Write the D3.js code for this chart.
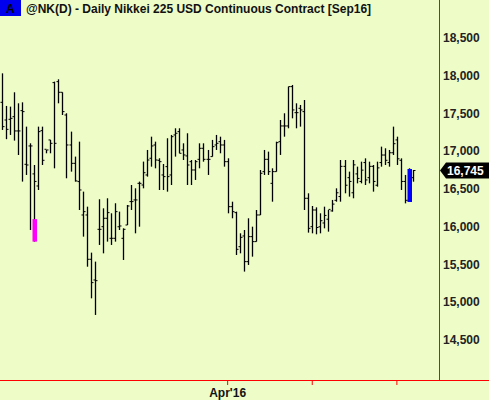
<!DOCTYPE html>
<html><head><meta charset="utf-8">
<script src="https://cdn.jsdelivr.net/npm/d3@7"></script>
<style>body{margin:0;background:#eefcc8;}svg{display:block;font-family:Arial,"Liberation Sans",sans-serif;font-weight:bold;}</style>
</head><body><div id="chart"></div>
<script>
// daily bars
const highs = [18032,17600,17591,17781,17635,17648,17326,17105,16818,17326,17326,17017,17150,17922,17953,17781,17503,17260,16929,17127,16465,16266,15657,15538,16364,16244,16377,16178,16311,16200,15979,16288,16553,16509,16598,16863,17017,17193,17127,16907,16831,17172,17216,17304,17304,17105,17238,16884,16884,17105,17105,17017,17150,17216,17193,17150,16907,16332,16200,15913,15957,16112,16001,16222,16752,17017,16995,16774,17127,17414,17503,17856,17878,17635,17613,17679,16443,16275,16257,16178,16266,16222,16355,16509,16884,16884,16730,16884,16796,16862,16906,16862,16818,16862,17061,17039,17017,17326,17193,16906,16686,16774,16752];
const lows = [17282,17160,17216,17141,16950,16598,16686,15957,15803,16487,16818,16973,16973,16774,17635,17480,16642,16730,16598,16222,15869,15471,15052,14832,15759,15648,15803,15759,15803,15957,15560,16023,16222,15913,16001,16509,16664,16796,16774,16487,16487,16465,16553,16929,16973,16884,16553,16553,16620,16774,16862,16686,16929,17017,16973,16796,16178,16112,15626,15648,15406,15494,15604,15803,16156,16686,16686,16332,16730,16951,17193,17304,17436,17304,17326,16222,15922,15913,15900,15913,15979,15935,16200,16332,16332,16443,16399,16377,16575,16575,16553,16575,16465,16531,16796,16818,16796,16950,16818,16487,16310,16332,16597];
const opens = [17648,17414,17423,17458,17269,17538,16827,17070,16700,16540,17273,17026,17150,17909,17922,17781,17480,17083,16840,16598,16156,16156,15569,15295,15966,16001,16112,15847,15847,16000,15847,16023,16333,16355,16575,16553,16686,16907,17083,16880,16686,16796,16686,17216,17260,17017,16938,16862,16752,16893,17039,16893,16929,17083,17127,17083,16862,16266,16187,15736,15878,15538,15869,15803,16156,16730,16893,16575,16730,17127,17335,17335,17856,17511,17569,17525,16377,16001,16222,16000,16050,16100,16210,16350,16400,16800,16650,16450,16700,16600,16850,16650,16800,16550,16850,16950,16850,16980,17150,16880,16600,16350,16650];
const closes = [17326,17290,17436,17269,17269,17525,16818,17070,16600,17260,16880,17017,17105,17105,17781,17525,17083,16840,16607,16487,16200,15569,15260,15286,15966,16112,16187,15847,16200,16010,15966,16275,16333,16355,16575,16716,16884,17070,16884,16862,16664,16664,17193,17238,16973,16951,16818,16752,16862,17039,16893,16893,17061,17105,17083,16862,16266,16200,15701,15860,15538,15869,15803,16156,16708,16893,16730,16730,17114,17335,17335,17856,17547,17511,17547,16377,15979,16222,15990,16080,16150,16230,16300,16450,16800,16550,16600,16820,16640,16750,16620,16800,16600,16780,16950,16880,16980,17100,16900,16600,16350,16700,16745];
const priceTicks = [14500,15000,15500,16000,16500,17000,17500,18000,18500];
const dateTickIdx = [56,77,98];
const dateTickLabels = ["Apr'16","",""];
const lastPrice = 16745;
const magentaBar = {i:8, top:16101, bot:15803};
const blueBar = {i:101, top:16765, bot:16328};

const W = 489, H = 400;
const svg = d3.select("#chart").append("svg").attr("width", W).attr("height", H);
svg.append("rect").attr("width", W).attr("height", H).attr("fill", "#eefcc8");

const x = d3.scaleLinear().domain([0, highs.length - 1]).range([2, 413]);
const y = d3.scaleLinear().domain([14500, 18500]).range([340, 38]);

// title
svg.append("rect").attr("x", 0).attr("y", 0).attr("width", 21).attr("height", 16).attr("fill", "#0000ee");
svg.append("text").attr("x", 6).attr("y", 13).attr("font-size", 12).attr("fill", "#000").text("A");
svg.append("text").attr("x", 26).attr("y", 13).attr("font-size", 12).attr("fill", "#111")
    .text("@NK(D) - Daily  Nikkei 225 USD Continuous Contract [Sep16]");

// axes lines
svg.append("line").attr("x1", 0).attr("x2", W).attr("y1", 380.5).attr("y2", 380.5).attr("stroke", "red");
svg.append("line").attr("x1", 439.5).attr("x2", 439.5).attr("y1", 0).attr("y2", 380).attr("stroke", "red");

// price labels
svg.selectAll("text.p").data(priceTicks).join("text").attr("class", "p")
    .attr("x", 443).attr("y", d => y(d) + 4).attr("font-size", 12).attr("fill", "#222")
    .text(d => d3.format(",")(d));

// date ticks
svg.selectAll("line.dt").data(dateTickIdx).join("line").attr("class", "dt")
    .attr("x1", d => x(d)).attr("x2", d => x(d)).attr("y1", 380).attr("y2", 385).attr("stroke", "red");
svg.selectAll("text.dt").data(dateTickIdx).join("text").attr("class", "dt")
    .attr("x", d => x(d)).attr("y", 397).attr("text-anchor", "middle").attr("font-size", 12).attr("fill", "#111")
    .text((d, i) => dateTickLabels[i]);

// OHLC bars
const g = svg.append("g").attr("stroke", "#000");
highs.forEach((h, i) => {
    const cx = Math.round(x(i)) + 0.5;
    g.append("line").attr("x1", cx).attr("x2", cx).attr("y1", y(h)).attr("y2", y(lows[i])).attr("stroke-width", 1.3);
    g.append("line").attr("x1", cx - 2).attr("x2", cx).attr("y1", y(opens[i])).attr("y2", y(opens[i]));
    g.append("line").attr("x1", cx).attr("x2", cx + 2).attr("y1", y(closes[i])).attr("y2", y(closes[i]));
});

// highlight boxes over the bars
[[magentaBar, "#ff00ff"], [blueBar, "#0000ff"]].forEach(([b, c]) => {
    svg.append("rect").attr("x", Math.round(x(b.i)) - 1.5).attr("width", 4.5)
        .attr("y", y(b.top)).attr("height", y(b.bot) - y(b.top)).attr("fill", c);
});

// last price tag
const ly = y(lastPrice);
svg.append("path").attr("fill", "#000")
    .attr("d", `M440,${ly} L446,${ly - 8} L489,${ly - 8} L489,${ly + 8} L446,${ly + 8} Z`);
svg.append("text").attr("x", 447).attr("y", ly + 4.5).attr("font-size", 12).attr("fill", "#fff")
    .text(d3.format(",")(lastPrice));
</script></body></html>
